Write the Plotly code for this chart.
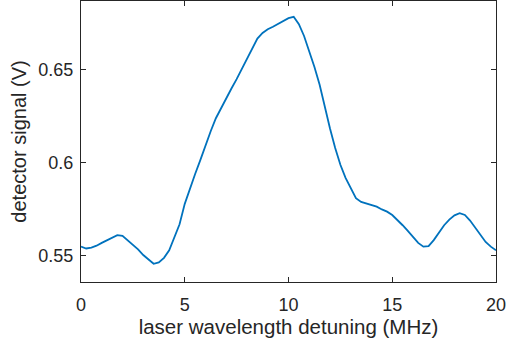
import plotly.graph_objects as go

detuning_mhz = [
    0.00, 0.25, 0.50, 0.75, 1.00, 1.25, 1.50, 1.75, 2.00, 2.25,
    2.50, 2.75, 3.00, 3.25, 3.50, 3.75, 4.00, 4.25, 4.50, 4.75,
    5.00, 5.25, 5.50, 5.75, 6.00, 6.25, 6.50, 6.75, 7.00, 7.25,
    7.50, 7.75, 8.00, 8.25, 8.50, 8.75, 9.00, 9.25, 9.50, 9.75,
    10.00, 10.25, 10.50, 10.75, 11.00, 11.25, 11.50, 11.75, 12.00, 12.25,
    12.50, 12.75, 13.00, 13.25, 13.50, 13.75, 14.00, 14.25, 14.50, 14.75,
    15.00, 15.25, 15.50, 15.75, 16.00, 16.25, 16.50, 16.75, 17.00, 17.25,
    17.50, 17.75, 18.00, 18.25, 18.50, 18.75, 19.00, 19.25, 19.50, 19.75,
    20.00,
]
signal_v = [
    0.5550, 0.5540, 0.5545, 0.5555, 0.5570, 0.5585, 0.5600, 0.5612, 0.5608, 0.5585,
    0.5560, 0.5535, 0.5505, 0.5480, 0.5458, 0.5465, 0.5490, 0.5530, 0.5595, 0.5670,
    0.5780, 0.5865, 0.5940, 0.6015, 0.6095, 0.6170, 0.6240, 0.6295, 0.6350, 0.6400,
    0.6450, 0.6505, 0.6560, 0.6620, 0.6668, 0.6698, 0.6718, 0.6732, 0.6748, 0.6762,
    0.6778, 0.6785, 0.6745, 0.6682, 0.6600, 0.6515, 0.6420, 0.6300, 0.6185, 0.6080,
    0.5990, 0.5920, 0.5865, 0.5810, 0.5790, 0.5783, 0.5775, 0.5765, 0.5750, 0.5738,
    0.5720, 0.5695, 0.5665, 0.5635, 0.5600, 0.5570, 0.5550, 0.5553, 0.5585, 0.5628,
    0.5665, 0.5695, 0.5718, 0.5730, 0.5720, 0.5690, 0.5650, 0.5610, 0.5575, 0.5550,
    0.5530,
]
x_ticks = [0, 5, 10, 15, 20]
y_ticks = [0.55, 0.6, 0.65]
y_tick_labels = ["0.55", "0.6", "0.65"]

axis_color = "#262626"
fig = go.Figure()
fig.add_trace(go.Scatter(
    x=detuning_mhz, y=signal_v, mode="lines",
    line=dict(color="#0072BD", width=1.8),
    hoverinfo="skip", showlegend=False,
))
fig.update_layout(
    width=507, height=341,
    margin=dict(l=81, r=11, t=1, b=59, pad=0),
    paper_bgcolor="white", plot_bgcolor="white",
    font=dict(family="Liberation Sans, Arial, sans-serif", size=18, color=axis_color),
    xaxis=dict(
        range=[0, 20], tickvals=x_ticks, ticks="inside", ticklen=5, tickwidth=1,
        tickcolor=axis_color, showline=True, linecolor=axis_color, linewidth=1,
        mirror="ticks", showgrid=False, zeroline=False, automargin=False,
        tickfont=dict(size=18), ticklabelstandoff=6,
        title=dict(text="laser wavelength detuning (MHz)", font=dict(size=20.5), standoff=6),
    ),
    yaxis=dict(
        range=[0.536, 0.687], tickvals=y_ticks, ticktext=y_tick_labels,
        ticks="inside", ticklen=5, tickwidth=1,
        tickcolor=axis_color, showline=True, linecolor=axis_color, linewidth=1,
        mirror="ticks", showgrid=False, zeroline=False, automargin=False,
        tickfont=dict(size=18), ticklabelstandoff=3,
        title=dict(text="detector signal (V)", font=dict(size=20), standoff=6),
    ),
)
fig.write_html(
    "out.html",
    config={"displayModeBar": False, "staticPlot": True},
    post_script="document.body.style.margin='0';document.body.style.overflow='hidden';",
)
